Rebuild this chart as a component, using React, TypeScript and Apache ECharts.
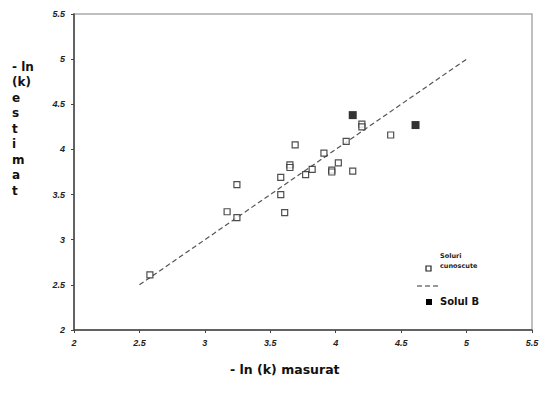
import React, { useEffect, useRef } from "react";
import * as echarts from "echarts";

const knownSoils: [number, number][] = [
  [2.58, 2.61],
  [3.17, 3.31],
  [3.245, 3.245],
  [3.245, 3.61],
  [3.58, 3.5],
  [3.58, 3.69],
  [3.61, 3.3],
  [3.65, 3.83],
  [3.65, 3.8],
  [3.69, 4.05],
  [3.77, 3.72],
  [3.82, 3.78],
  [3.91, 3.96],
  [3.97, 3.77],
  [3.97, 3.75],
  [4.02, 3.85],
  [4.08, 4.09],
  [4.13, 3.76],
  [4.2, 4.28],
  [4.2, 4.25],
  [4.42, 4.16],
];
const soilB: [number, number][] = [
  [4.13, 4.38],
  [4.61, 4.27],
];
const fitLine: [number, number][] = [
  [2.5, 2.5],
  [5, 5],
];
const axisMin = 2;
const axisMax = 5.5;
const axisStep = 0.5;
const xTitle = "- ln (k) masurat";
const yTitleLines = ["- ln", "(k)", "e", "s", "t", "i", "m", "a", "t"];
const legendKnown = "Soluri\ncunoscute";
const legendB = "Solul B";

export default function App() {
  const ref = useRef<HTMLDivElement>(null);
  useEffect(() => {
    if (!ref.current) return;
    const chart = echarts.init(ref.current, null, { renderer: "svg" });
    const titleFont = "DejaVu Sans, Verdana, sans-serif";
    const tickLabel = {
      fontSize: 9,
      fontStyle: "italic" as const,
      fontWeight: "bold" as const,
      color: "#222",
      fontFamily: "Liberation Sans, Arial, sans-serif",
    };
    chart.setOption({
      animation: false,
      backgroundColor: "#fff",
      grid: {
        left: 74,
        right: 22,
        top: 14,
        bottom: 63,
        show: true,
        borderColor: "#aaa",
        borderWidth: 1.5,
      },
      xAxis: {
        type: "value",
        min: axisMin,
        max: axisMax,
        interval: axisStep,
        splitLine: { show: false },
        axisLine: { lineStyle: { color: "#444", width: 1.5 } },
        axisTick: { show: true, length: 3, lineStyle: { color: "#444" } },
        axisLabel: { ...tickLabel, margin: 8 },
      },
      yAxis: {
        type: "value",
        min: axisMin,
        max: axisMax,
        interval: axisStep,
        splitLine: { show: false },
        axisLine: { show: true, lineStyle: { color: "#444", width: 1.5 } },
        axisTick: { show: true, length: 3, lineStyle: { color: "#444" } },
        axisLabel: { ...tickLabel, margin: 9 },
      },
      series: [
        {
          type: "line",
          data: fitLine,
          symbol: "none",
          lineStyle: { color: "#555", width: 1.2, type: [5, 3] },
          z: 1,
        },
        {
          type: "scatter",
          data: knownSoils,
          symbol: "rect",
          symbolSize: 6,
          itemStyle: { color: "#fff", borderColor: "#222", borderWidth: 1.2 },
          z: 2,
        },
        {
          type: "scatter",
          data: soilB,
          symbol: "rect",
          symbolSize: 8,
          itemStyle: { color: "#000" },
          z: 3,
        },
      ],
      graphic: [
        {
          type: "text",
          left: 230,
          top: 363,
          style: {
            text: xTitle,
            fontSize: 12.5,
            fontWeight: "bold",
            fill: "#111",
            fontFamily: titleFont,
          },
        },
        {
          type: "text",
          left: 12,
          top: 59,
          style: {
            text: yTitleLines.join("\n"),
            fontSize: 12,
            lineHeight: 15.5,
            fontWeight: "bold",
            fill: "#111",
            fontFamily: titleFont,
          },
        },
        {
          type: "text",
          left: 440,
          top: 251,
          style: {
            text: legendKnown,
            fontSize: 6.5,
            lineHeight: 10,
            fontWeight: "bold",
            fill: "#222",
            fontFamily: titleFont,
          },
        },
        {
          type: "rect",
          shape: { x: 426, y: 266, width: 5, height: 5 },
          style: { fill: "#fff", stroke: "#222", lineWidth: 1.2 },
        },
        {
          type: "line",
          shape: { x1: 417, y1: 286, x2: 438, y2: 286 },
          style: { stroke: "#333", lineWidth: 1.2, lineDash: [5, 3] },
        },
        {
          type: "rect",
          shape: { x: 426, y: 299, width: 6, height: 6 },
          style: { fill: "#000" },
        },
        {
          type: "text",
          left: 440,
          top: 296,
          style: {
            text: legendB,
            fontSize: 10,
            fontWeight: "bold",
            fill: "#111",
            fontFamily: titleFont,
          },
        },
      ],
    });
    return () => chart.dispose();
  }, []);
  return <div ref={ref} style={{ width: 554, height: 393, margin: -8 }} />;
}
